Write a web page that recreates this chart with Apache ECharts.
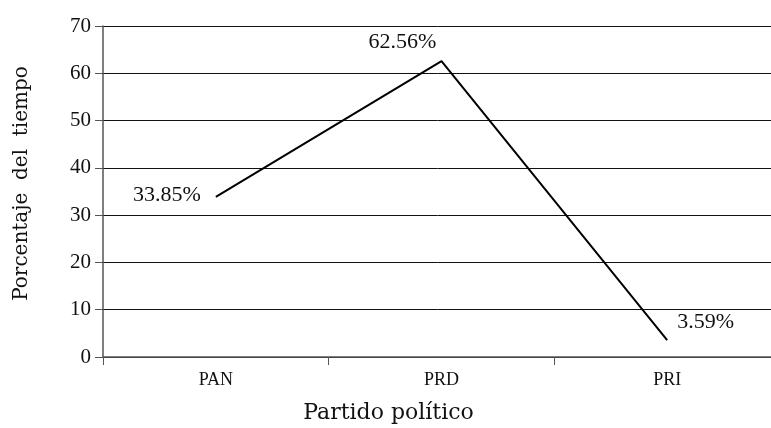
<!DOCTYPE html>
<html lang="es">
<head>
<meta charset="UTF-8">
<title>Porcentaje del tiempo</title>
<script src="https://cdn.jsdelivr.net/npm/echarts@6/dist/echarts.min.js"></script>
<style>html,body{margin:0;padding:0;background:#fff;}</style>
</head>
<body>
<div id="main" style="width:771px;height:428px;"></div>
<script>
// datos
const partidos = ['PAN', 'PRD', 'PRI'];
const porcentajes = [33.85, 62.56, 3.59];
const yTicks = [0, 10, 20, 30, 40, 50, 60, 70];

const fontFam = 'Liberation Serif';
const fontName = 'DejaVu Serif';

// posición de cada etiqueta alrededor del punto
const labelPos = [
    { show: true, position: 'left', offset: [-10, -2] },
    { show: true, position: 'top', offset: [-39, -3] },
    { show: true, position: 'right', offset: [5, -18] }
];

const chart = echarts.init(document.getElementById('main'));
chart.setOption({
    animation: false,
    grid: { left: 103, right: -9, top: 26, bottom: 71, outerBoundsMode: 'none' },
    xAxis: {
        type: 'category',
        data: partidos,
        name: 'Partido político',
        nameLocation: 'middle',
        nameGap: 45,
        nameTextStyle: { fontFamily: fontName, fontSize: 22, color: '#111', padding: [0, 106, 0, 0] },
        axisLine: { lineStyle: { color: '#555', width: 1.5 } },
        axisTick: { show: true, length: 8, alignWithLabel: false, lineStyle: { color: '#555' } },
        axisLabel: { fontFamily: fontFam, fontSize: 18, color: '#111', margin: 14 }
    },
    yAxis: {
        type: 'value',
        min: yTicks[0],
        max: yTicks[yTicks.length - 1],
        interval: 10,
        name: 'Porcentaje  del  tiempo',
        nameLocation: 'middle',
        nameGap: 71,
        nameTextStyle: { fontFamily: fontName, fontSize: 20, color: '#111', padding: [0, 0, 0, 16] },
        axisLine: { show: true, lineStyle: { color: '#555', width: 1.5 } },
        axisTick: { show: true, length: 8, lineStyle: { color: '#555' } },
        axisLabel: { fontFamily: fontFam, fontSize: 21, color: '#111', margin: 12 },
        splitLine: { show: true, lineStyle: { color: '#111', width: 1 } }
    },
    series: [{
        type: 'line',
        data: porcentajes.map((v, i) => ({
            value: v,
            label: labelPos[i]
        })),
        symbol: 'circle',
        symbolSize: 0,
        showSymbol: true,
        itemStyle: { color: '#000' },
        lineStyle: { color: '#000', width: 2 },
        label: {
            show: true,
            fontFamily: fontFam,
            fontSize: 22,
            color: '#111',
            formatter: p => p.value.toFixed(2) + '%'
        }
    }]
});
</script>
</body>
</html>
